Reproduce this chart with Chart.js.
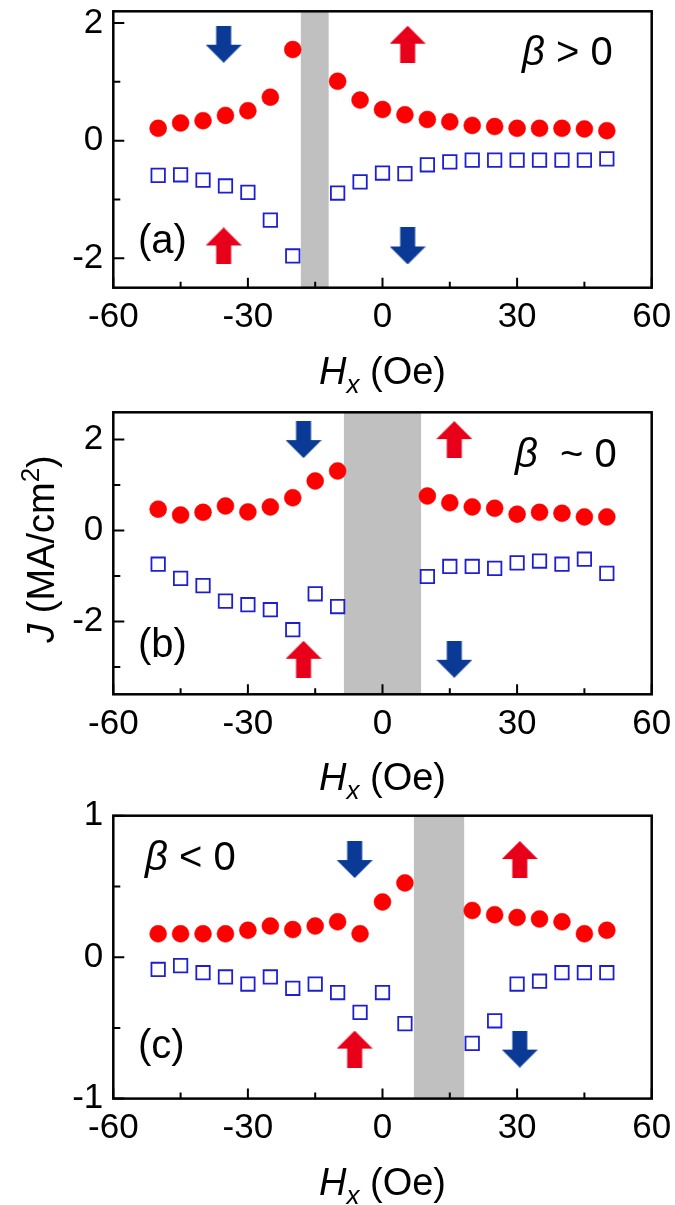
<!DOCTYPE html>
<html lang="en">
<head>
<meta charset="utf-8">
<title>J vs Hx</title>
<script src="https://cdn.jsdelivr.net/npm/chart.js@4.4.0/dist/chart.umd.min.js"></script>
<style>
  body { margin: 0; background: #fff; }
  #wrap { position: relative; width: 675px; height: 1205px; overflow: hidden; }
  canvas { position: absolute; left: 0; }
</style>
</head>
<body>
<div id="wrap">
  <canvas id="chartA" width="675" height="410" style="top:0px"></canvas>
  <canvas id="chartB" width="675" height="410" style="top:400px"></canvas>
  <canvas id="chartC" width="675" height="425" style="top:780px"></canvas>
</div>
<script>
// ---- data ----
var xTickLabels = [-60, -30, 0, 30, 60];
var xMinorTicks = [-45, -15, 15, 45];

// (a) beta > 0
var fieldA = [-50, -45, -40, -35, -30, -25, -20, -10, -5, 0, 5, 10, 15, 20, 25, 30, 35, 40, 45, 50];
var circlesA = [0.21, 0.30, 0.34, 0.43, 0.51, 0.74, 1.55, 1.01, 0.69, 0.53, 0.44, 0.36, 0.32, 0.26, 0.24, 0.21, 0.21, 0.21, 0.20, 0.17];
var squaresA = [-0.59, -0.58, -0.67, -0.77, -0.88, -1.35, -1.96, -0.89, -0.70, -0.55, -0.56, -0.41, -0.36, -0.33, -0.33, -0.33, -0.33, -0.33, -0.33, -0.31];
var gapA = [-18.2, -12.0];
var yTickLabelsA = [-2, 0, 2];
var yMinorTicksA = [-1, 1];

// (b) beta ~ 0
var fieldB = [-50, -45, -40, -35, -30, -25, -20, -15, -10, 10, 15, 20, 25, 30, 35, 40, 45, 50];
var circlesB = [0.47, 0.34, 0.40, 0.54, 0.41, 0.52, 0.72, 1.09, 1.31, 0.76, 0.61, 0.52, 0.49, 0.36, 0.40, 0.38, 0.30, 0.30];
var squaresB = [-0.74, -1.05, -1.21, -1.55, -1.63, -1.74, -2.18, -1.39, -1.67, -1.01, -0.79, -0.79, -0.83, -0.71, -0.67, -0.74, -0.63, -0.94];
var gapB = [-8.6, 8.6];
var yTickLabelsB = [-2, 0, 2];
var yMinorTicksB = [-3, -1, 1];

// (c) beta < 0
var fieldC = [-50, -45, -40, -35, -30, -25, -20, -15, -10, -5, 0, 5, 20, 25, 30, 35, 40, 45, 50];
var circlesC = [0.165, 0.165, 0.165, 0.165, 0.19, 0.22, 0.195, 0.22, 0.25, 0.165, 0.39, 0.525, 0.33, 0.30, 0.28, 0.27, 0.25, 0.165, 0.19];
var squaresC = [-0.087, -0.06, -0.11, -0.14, -0.19, -0.14, -0.22, -0.19, -0.25, -0.39, -0.25, -0.47, -0.61, -0.45, -0.19, -0.17, -0.11, -0.11, -0.11];
var gapC = [7.0, 18.2];
var yTickLabelsC = [-1, 0, 1];
var yMinorTicksC = [-0.5, 0.5];

// arrow marks (data coords): red up, blue down
var upArrowsA = [{x: 5.6, y: 1.64}, {x: -35.4, y: -1.79}];
var downArrowsA = [{x: -35.4, y: 1.64}, {x: 5.6, y: -1.79}];
var upArrowsB = [{x: 16, y: 2.0}, {x: -17.6, y: -2.83}];
var downArrowsB = [{x: -17.6, y: 2.0}, {x: 16, y: -2.83}];
var upArrowsC = [{x: 30.6, y: 0.69}, {x: -6.2, y: -0.65}];
var downArrowsC = [{x: -6.2, y: 0.69}, {x: 30.6, y: -0.65}];

var FONT = '"Liberation Sans", Arial, sans-serif';
var RED = '#ff0000';
var BLUE = '#1f1fd2';

// arrow sprites used as point styles
function makeArrow(up, color) {
  var c = document.createElement('canvas');
  c.width = 36; c.height = 37;
  var g = c.getContext('2d');
  g.fillStyle = color;
  g.beginPath();
  if (up) {
    g.moveTo(18, 0); g.lineTo(36, 18); g.lineTo(25.5, 18); g.lineTo(25.5, 37);
    g.lineTo(10.5, 37); g.lineTo(10.5, 18); g.lineTo(0, 18);
  } else {
    g.moveTo(10.5, 0); g.lineTo(25.5, 0); g.lineTo(25.5, 19); g.lineTo(36, 19);
    g.lineTo(18, 37); g.lineTo(0, 19); g.lineTo(10.5, 19);
  }
  g.closePath();
  g.fill();
  return c;
}
var upArrow = makeArrow(true, '#e8001a');
var downArrow = makeArrow(false, '#0b3a96');

function toPoints(xs, ys) {
  return xs.map(function (x, i) { return {x: x, y: ys[i]}; });
}

// draw a run of text pieces with different fonts
function drawRich(ctx, segs, x, y, align) {
  var total = 0;
  segs.forEach(function (s) { ctx.font = s.f; s.w = ctx.measureText(s.t).width; total += s.w; });
  var cx = align === 'center' ? x - total / 2 : x;
  ctx.textBaseline = 'alphabetic';
  ctx.textAlign = 'left';
  ctx.fillStyle = '#000';
  segs.forEach(function (s) {
    ctx.font = s.f;
    ctx.fillText(s.t, cx, y + (s.dy || 0));
    cx += s.w;
  });
}

var gapPlugin = {
  id: 'gap',
  beforeDatasetsDraw: function (chart) {
    var g = chart.options.plugins.gap.range;
    var a = chart.chartArea, xs = chart.scales.x, ctx = chart.ctx;
    var x0 = xs.getPixelForValue(g[0]), x1 = xs.getPixelForValue(g[1]);
    ctx.save();
    ctx.fillStyle = '#c0c0c0';
    ctx.fillRect(x0, a.top, x1 - x0, a.bottom - a.top);
    ctx.restore();
  }
};

// frame box with inward tick marks
var framePlugin = {
  id: 'frame',
  afterDatasetsDraw: function (chart) {
    var o = chart.options.plugins.frame;
    var a = chart.chartArea, ctx = chart.ctx;
    var xs = chart.scales.x, ys = chart.scales.y;
    ctx.save();
    ctx.strokeStyle = '#000';
    ctx.lineWidth = 2;
    ctx.beginPath();
    xTickLabels.forEach(function (v) { var p = xs.getPixelForValue(v); ctx.moveTo(p, a.bottom); ctx.lineTo(p, a.bottom - 10); });
    xMinorTicks.forEach(function (v) { var p = xs.getPixelForValue(v); ctx.moveTo(p, a.bottom); ctx.lineTo(p, a.bottom - 6); });
    o.major.forEach(function (v) { var p = ys.getPixelForValue(v); ctx.moveTo(a.left, p); ctx.lineTo(a.left + 11, p); });
    o.minor.forEach(function (v) { var p = ys.getPixelForValue(v); ctx.moveTo(a.left, p); ctx.lineTo(a.left + 7, p); });
    ctx.stroke();
    ctx.lineWidth = 2.5;
    ctx.strokeRect(a.left, a.top, a.right - a.left, a.bottom - a.top);
    ctx.restore();
  }
};

var textPlugin = {
  id: 'texts',
  afterDraw: function (chart) {
    var o = chart.options.plugins.texts;
    var a = chart.chartArea, ctx = chart.ctx;
    ctx.save();
    // x axis title
    drawRich(ctx, [
      {t: 'H', f: 'italic 38px ' + FONT},
      {t: 'x', f: 'italic 26px ' + FONT, dy: 9},
      {t: ' (Oe)', f: '38px ' + FONT}
    ], (a.left + a.right) / 2, a.bottom + 96, 'center');
    // panel letter
    drawRich(ctx, [{t: o.letter, f: '40px ' + FONT}], 138, o.letterY, 'left');
    // beta label
    drawRich(ctx, [
      {t: '\u03b2', f: 'italic 40px ' + FONT},
      {t: o.beta, f: '40px ' + FONT}
    ], o.betaX, o.betaY, 'left');
    if (o.yTitle) {
      ctx.translate(54, o.yTitle);
      ctx.rotate(-Math.PI / 2);
      drawRich(ctx, [
        {t: 'J', f: 'italic 38px ' + FONT},
        {t: ' (MA/cm', f: '38px ' + FONT},
        {t: '2', f: '26px ' + FONT, dy: -15},
        {t: ')', f: '38px ' + FONT}
      ], 0, 0, 'center');
    }
    ctx.restore();
  }
};

function makePanel(id, p) {
  var canvas = document.getElementById(id);
  return new Chart(canvas.getContext('2d'), {
    type: 'scatter',
    data: {
      datasets: [
        {data: toPoints(p.field, p.squares), pointStyle: 'rect', pointRadius: 9.5,
         borderColor: BLUE, borderWidth: 1.8, backgroundColor: 'rgba(0,0,0,0)'},
        {data: toPoints(p.field, p.circles), pointStyle: 'circle', pointRadius: 8.5,
         borderColor: RED, borderWidth: 0.5, backgroundColor: RED},
        {data: p.up, pointStyle: upArrow},
        {data: p.down, pointStyle: downArrow}
      ]
    },
    options: {
      responsive: false,
      animation: false,
      devicePixelRatio: 1,
      events: [],
      layout: {padding: {top: p.top, right: 23.3, left: 0, bottom: 0}},
      plugins: {
        legend: {display: false},
        tooltip: {enabled: false},
        gap: {range: p.gap},
        frame: {major: p.yLabels, minor: p.yMinor},
        texts: {letter: p.letter, letterY: p.letterY, beta: p.beta, betaX: p.betaX, betaY: p.betaY, yTitle: p.yTitle}
      },
      scales: {
        x: {
          type: 'linear', min: -60, max: 60,
          grid: {display: false, drawTicks: false},
          border: {display: false},
          afterBuildTicks: function (s) { s.ticks = xTickLabels.map(function (v) { return {value: v}; }); },
          afterFit: function (s) { s.height = p.xHeight; s.paddingLeft = 0; s.paddingRight = 0; },
          ticks: {autoSkip: false, maxRotation: 0, padding: 9, color: '#000', font: {family: FONT, size: 35}}
        },
        y: {
          type: 'linear', min: p.yMin, max: p.yMax,
          grid: {display: false, drawTicks: false},
          border: {display: false},
          afterBuildTicks: function (s) { s.ticks = p.yLabels.map(function (v) { return {value: v}; }); },
          afterFit: function (s) { s.width = 113.3; s.paddingTop = 0; s.paddingBottom = 0; },
          ticks: {autoSkip: false, padding: 10, color: '#000', font: {family: FONT, size: 35}}
        }
      }
    },
    plugins: [gapPlugin, framePlugin, textPlugin]
  });
}

makePanel('chartA', {
  field: fieldA, circles: circlesA, squares: squaresA, gap: gapA,
  up: upArrowsA, down: downArrowsA,
  yMin: -2.5, yMax: 2.2, yLabels: yTickLabelsA, yMinor: yMinorTicksA,
  top: 6, xHeight: 410 - 287.7,
  letter: '(a)', letterY: 253, beta: ' > 0', betaX: 522, betaY: 65
});
makePanel('chartB', {
  field: fieldB, circles: circlesB, squares: squaresB, gap: gapB,
  up: upArrowsB, down: downArrowsB,
  yMin: -3.6, yMax: 2.6, yLabels: yTickLabelsB, yMinor: yMinorTicksB,
  top: 12.3, xHeight: 410 - 294.3,
  letter: '(b)', letterY: 257, beta: '  ~ 0', betaX: 515, betaY: 67, yTitle: 149
});
makePanel('chartC', {
  field: fieldC, circles: circlesC, squares: squaresC, gap: gapC,
  up: upArrowsC, down: downArrowsC,
  yMin: -1, yMax: 1, yLabels: yTickLabelsC, yMinor: yMinorTicksC,
  top: 35.7, xHeight: 425 - 318.6,
  letter: '(c)', letterY: 278, beta: ' < 0', betaX: 145, betaY: 90
});
</script>
</body>
</html>
